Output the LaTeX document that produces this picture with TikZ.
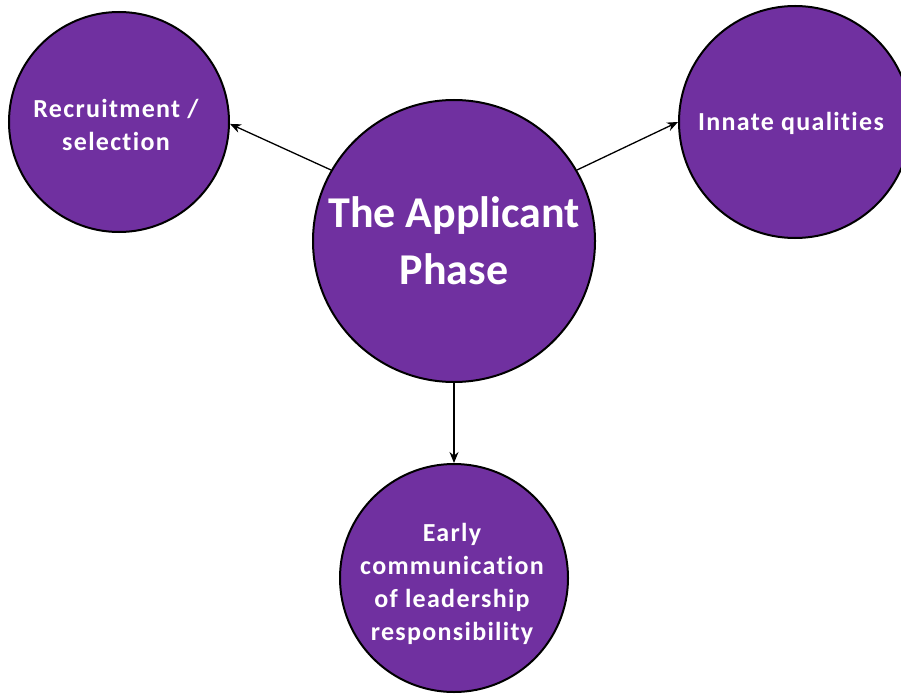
\documentclass[tikz,border=0pt]{standalone}
\usepackage{fontspec}
\setmainfont{Carlito}[Ligatures={NoCommon,NoRare,NoContextual}]
\usetikzlibrary{arrows.meta}
\definecolor{officepurple}{RGB}{112,48,160}
\tikzset{
  phase/.style={circle, draw=black, line width=2pt, fill=officepurple, text=white,
    inner sep=0pt, align=center},
  smalltext/.style={text=white, align=center,
    font=\bfseries\fontsize{26}{33}\selectfont\addfontfeatures{LetterSpace=5}},
  link/.style={line width=1.3pt, -{Stealth[length=11pt,width=9pt]}}
}
\begin{document}
\begin{tikzpicture}[x=1pt,y=-1pt]
\useasboundingbox (0,0) rectangle (901,695);
\node[phase, minimum size=282pt, font=\bfseries\fontsize{44}{57}\selectfont] (c) at (454,241) {The Applicant\\Phase};
\node[phase, minimum size=220pt] (l) at (119,122) {};
\node[smalltext] (lt) at (116,125) {Recruitment /\\selection};
\node[phase, minimum size=232pt] (r) at (795,122) {};
\node[smalltext] (rt) at (791,123) {Innate qualities};
\node[phase, minimum size=228pt] (b) at (454,578) {};
\node[smalltext] (bt) at (452,584) {Early\\communication\\of leadership\\responsibility};
\draw[link] (c.150) -- (l.-1.5);
\draw[link] (c.30) -- (r.180.5);
\draw[link] (c.south) -- (b.north);
\end{tikzpicture}
\end{document}
